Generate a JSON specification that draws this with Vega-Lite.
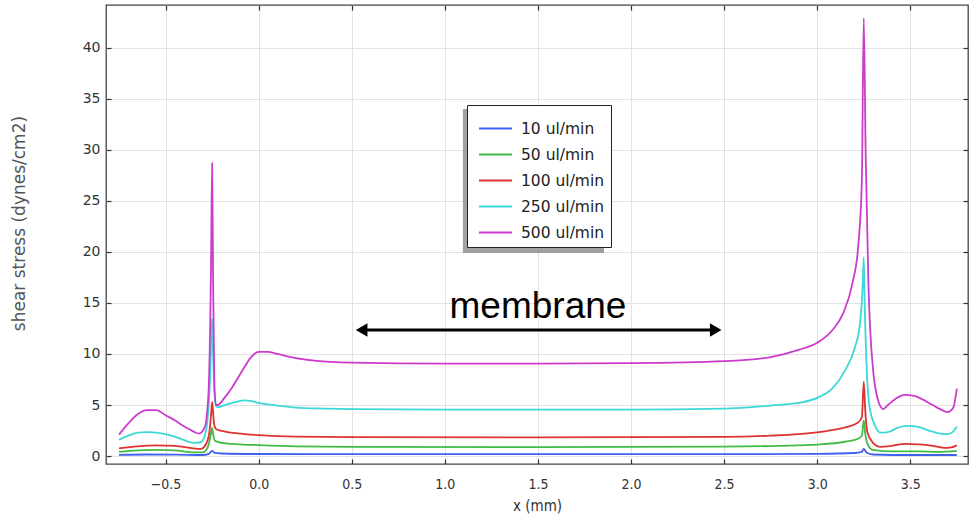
{
  "$schema": "https://vega.github.io/schema/vega-lite/v6.json",
  "autosize": "none",
  "width": 862,
  "height": 459,
  "padding": {"left": 106, "top": 5, "right": 5, "bottom": 53},
  "background": "white",
  "config": {
    "view": {"stroke": "#444", "strokeWidth": 1.3},
    "font": "DejaVu Sans",
    "axis": {
      "labelFont": "DejaVu Sans",
      "labelFontSize": 14,
      "labelColor": "#333",
      "titleFont": "DejaVu Sans",
      "titleFontSize": 17,
      "titleFontWeight": "normal",
      "titleColor": "#555",
      "tickColor": "#333",
      "tickWidth": 1.2,
      "tickSize": -5,
      "domain": false,
      "gridColor": "#e2e2e2",
      "gridWidth": 1
    }
  },
  "resolve": {"axis": {"x": "independent", "y": "independent"}},
  "datasets": {
    "curves": [
      {"flow": "10 ul/min", "x": -0.75, "y": 0.12},
      {"flow": "10 ul/min", "x": -0.6, "y": 0.15},
      {"flow": "10 ul/min", "x": -0.45, "y": 0.14},
      {"flow": "10 ul/min", "x": -0.3, "y": 0.1},
      {"flow": "10 ul/min", "x": -0.27, "y": 0.18},
      {"flow": "10 ul/min", "x": -0.25, "y": 0.5},
      {"flow": "10 ul/min", "x": -0.235, "y": 0.3},
      {"flow": "10 ul/min", "x": -0.2, "y": 0.25},
      {"flow": "10 ul/min", "x": 0.0, "y": 0.2},
      {"flow": "10 ul/min", "x": 0.5, "y": 0.18},
      {"flow": "10 ul/min", "x": 2.5, "y": 0.18},
      {"flow": "10 ul/min", "x": 3.0, "y": 0.22},
      {"flow": "10 ul/min", "x": 3.2, "y": 0.3},
      {"flow": "10 ul/min", "x": 3.24, "y": 0.4},
      {"flow": "10 ul/min", "x": 3.25, "y": 0.7},
      {"flow": "10 ul/min", "x": 3.265, "y": 0.35},
      {"flow": "10 ul/min", "x": 3.3, "y": 0.15},
      {"flow": "10 ul/min", "x": 3.5, "y": 0.1},
      {"flow": "10 ul/min", "x": 3.75, "y": 0.1},

      {"flow": "50 ul/min", "x": -0.75, "y": 0.4},
      {"flow": "50 ul/min", "x": -0.65, "y": 0.55},
      {"flow": "50 ul/min", "x": -0.55, "y": 0.6},
      {"flow": "50 ul/min", "x": -0.45, "y": 0.55},
      {"flow": "50 ul/min", "x": -0.35, "y": 0.35},
      {"flow": "50 ul/min", "x": -0.3, "y": 0.35},
      {"flow": "50 ul/min", "x": -0.275, "y": 0.8},
      {"flow": "50 ul/min", "x": -0.258, "y": 2.0},
      {"flow": "50 ul/min", "x": -0.25, "y": 2.75},
      {"flow": "50 ul/min", "x": -0.244, "y": 2.1},
      {"flow": "50 ul/min", "x": -0.235, "y": 1.5},
      {"flow": "50 ul/min", "x": -0.2, "y": 1.3},
      {"flow": "50 ul/min", "x": -0.1, "y": 1.15},
      {"flow": "50 ul/min", "x": 0.0, "y": 1.07},
      {"flow": "50 ul/min", "x": 0.2, "y": 0.95},
      {"flow": "50 ul/min", "x": 0.5, "y": 0.9},
      {"flow": "50 ul/min", "x": 1.5, "y": 0.88},
      {"flow": "50 ul/min", "x": 2.5, "y": 0.92},
      {"flow": "50 ul/min", "x": 2.8, "y": 1.0},
      {"flow": "50 ul/min", "x": 3.0, "y": 1.12},
      {"flow": "50 ul/min", "x": 3.15, "y": 1.4},
      {"flow": "50 ul/min", "x": 3.22, "y": 1.7},
      {"flow": "50 ul/min", "x": 3.24, "y": 2.0},
      {"flow": "50 ul/min", "x": 3.25, "y": 3.5},
      {"flow": "50 ul/min", "x": 3.258, "y": 2.2},
      {"flow": "50 ul/min", "x": 3.27, "y": 1.2},
      {"flow": "50 ul/min", "x": 3.3, "y": 0.6},
      {"flow": "50 ul/min", "x": 3.4, "y": 0.45},
      {"flow": "50 ul/min", "x": 3.55, "y": 0.45},
      {"flow": "50 ul/min", "x": 3.65, "y": 0.4},
      {"flow": "50 ul/min", "x": 3.75, "y": 0.5},

      {"flow": "100 ul/min", "x": -0.75, "y": 0.75},
      {"flow": "100 ul/min", "x": -0.65, "y": 0.95},
      {"flow": "100 ul/min", "x": -0.55, "y": 1.05},
      {"flow": "100 ul/min", "x": -0.45, "y": 1.0},
      {"flow": "100 ul/min", "x": -0.35, "y": 0.75},
      {"flow": "100 ul/min", "x": -0.31, "y": 0.7},
      {"flow": "100 ul/min", "x": -0.285, "y": 1.1},
      {"flow": "100 ul/min", "x": -0.265, "y": 2.3},
      {"flow": "100 ul/min", "x": -0.255, "y": 4.2},
      {"flow": "100 ul/min", "x": -0.25, "y": 5.3},
      {"flow": "100 ul/min", "x": -0.245, "y": 4.3},
      {"flow": "100 ul/min", "x": -0.238, "y": 3.0},
      {"flow": "100 ul/min", "x": -0.225, "y": 2.6},
      {"flow": "100 ul/min", "x": -0.18, "y": 2.4},
      {"flow": "100 ul/min", "x": -0.1, "y": 2.2},
      {"flow": "100 ul/min", "x": 0.0, "y": 2.05},
      {"flow": "100 ul/min", "x": 0.2, "y": 1.9},
      {"flow": "100 ul/min", "x": 0.5, "y": 1.85},
      {"flow": "100 ul/min", "x": 1.5, "y": 1.82},
      {"flow": "100 ul/min", "x": 2.5, "y": 1.88},
      {"flow": "100 ul/min", "x": 2.75, "y": 2.0},
      {"flow": "100 ul/min", "x": 2.9, "y": 2.15},
      {"flow": "100 ul/min", "x": 3.05, "y": 2.45},
      {"flow": "100 ul/min", "x": 3.15, "y": 2.8},
      {"flow": "100 ul/min", "x": 3.22, "y": 3.3},
      {"flow": "100 ul/min", "x": 3.24, "y": 3.8},
      {"flow": "100 ul/min", "x": 3.25, "y": 7.3},
      {"flow": "100 ul/min", "x": 3.258, "y": 4.5},
      {"flow": "100 ul/min", "x": 3.27, "y": 2.3},
      {"flow": "100 ul/min", "x": 3.3, "y": 1.3},
      {"flow": "100 ul/min", "x": 3.34, "y": 0.9},
      {"flow": "100 ul/min", "x": 3.4, "y": 1.0},
      {"flow": "100 ul/min", "x": 3.47, "y": 1.2},
      {"flow": "100 ul/min", "x": 3.55, "y": 1.15},
      {"flow": "100 ul/min", "x": 3.62, "y": 1.0},
      {"flow": "100 ul/min", "x": 3.68, "y": 0.8},
      {"flow": "100 ul/min", "x": 3.72, "y": 0.85},
      {"flow": "100 ul/min", "x": 3.75, "y": 1.05},

      {"flow": "250 ul/min", "x": -0.75, "y": 1.6},
      {"flow": "250 ul/min", "x": -0.7, "y": 2.0},
      {"flow": "250 ul/min", "x": -0.65, "y": 2.3},
      {"flow": "250 ul/min", "x": -0.6, "y": 2.35},
      {"flow": "250 ul/min", "x": -0.55, "y": 2.3},
      {"flow": "250 ul/min", "x": -0.5, "y": 2.15},
      {"flow": "250 ul/min", "x": -0.45, "y": 1.9},
      {"flow": "250 ul/min", "x": -0.4, "y": 1.55},
      {"flow": "250 ul/min", "x": -0.35, "y": 1.3},
      {"flow": "250 ul/min", "x": -0.31, "y": 1.35},
      {"flow": "250 ul/min", "x": -0.285, "y": 2.3},
      {"flow": "250 ul/min", "x": -0.265, "y": 6.0},
      {"flow": "250 ul/min", "x": -0.255, "y": 11.0},
      {"flow": "250 ul/min", "x": -0.25, "y": 13.5},
      {"flow": "250 ul/min", "x": -0.245, "y": 10.0},
      {"flow": "250 ul/min", "x": -0.238, "y": 6.5},
      {"flow": "250 ul/min", "x": -0.23, "y": 5.0},
      {"flow": "250 ul/min", "x": -0.22, "y": 4.8},
      {"flow": "250 ul/min", "x": -0.18, "y": 5.0},
      {"flow": "250 ul/min", "x": -0.12, "y": 5.3},
      {"flow": "250 ul/min", "x": -0.08, "y": 5.45},
      {"flow": "250 ul/min", "x": -0.03, "y": 5.35},
      {"flow": "250 ul/min", "x": 0.0, "y": 5.2},
      {"flow": "250 ul/min", "x": 0.1, "y": 4.95},
      {"flow": "250 ul/min", "x": 0.2, "y": 4.75},
      {"flow": "250 ul/min", "x": 0.35, "y": 4.65},
      {"flow": "250 ul/min", "x": 0.5, "y": 4.6},
      {"flow": "250 ul/min", "x": 1.0, "y": 4.55},
      {"flow": "250 ul/min", "x": 1.5, "y": 4.55},
      {"flow": "250 ul/min", "x": 2.0, "y": 4.55},
      {"flow": "250 ul/min", "x": 2.5, "y": 4.65},
      {"flow": "250 ul/min", "x": 2.75, "y": 4.95},
      {"flow": "250 ul/min", "x": 2.9, "y": 5.2},
      {"flow": "250 ul/min", "x": 3.0, "y": 5.7},
      {"flow": "250 ul/min", "x": 3.08, "y": 6.6},
      {"flow": "250 ul/min", "x": 3.15, "y": 8.4},
      {"flow": "250 ul/min", "x": 3.2, "y": 10.5},
      {"flow": "250 ul/min", "x": 3.23, "y": 13.0},
      {"flow": "250 ul/min", "x": 3.245, "y": 17.0},
      {"flow": "250 ul/min", "x": 3.25, "y": 19.5},
      {"flow": "250 ul/min", "x": 3.255, "y": 15.0},
      {"flow": "250 ul/min", "x": 3.265, "y": 9.0},
      {"flow": "250 ul/min", "x": 3.28, "y": 5.0},
      {"flow": "250 ul/min", "x": 3.31, "y": 3.0},
      {"flow": "250 ul/min", "x": 3.34, "y": 2.3},
      {"flow": "250 ul/min", "x": 3.38, "y": 2.35},
      {"flow": "250 ul/min", "x": 3.43, "y": 2.75},
      {"flow": "250 ul/min", "x": 3.48, "y": 2.95},
      {"flow": "250 ul/min", "x": 3.53, "y": 2.9},
      {"flow": "250 ul/min", "x": 3.6, "y": 2.5},
      {"flow": "250 ul/min", "x": 3.66, "y": 2.2},
      {"flow": "250 ul/min", "x": 3.7, "y": 2.15},
      {"flow": "250 ul/min", "x": 3.73, "y": 2.4},
      {"flow": "250 ul/min", "x": 3.75, "y": 2.9},

      {"flow": "500 ul/min", "x": -0.75, "y": 2.1},
      {"flow": "500 ul/min", "x": -0.7, "y": 3.2},
      {"flow": "500 ul/min", "x": -0.65, "y": 4.1},
      {"flow": "500 ul/min", "x": -0.6, "y": 4.5},
      {"flow": "500 ul/min", "x": -0.55, "y": 4.5},
      {"flow": "500 ul/min", "x": -0.5, "y": 4.0},
      {"flow": "500 ul/min", "x": -0.45, "y": 3.5},
      {"flow": "500 ul/min", "x": -0.4, "y": 2.9},
      {"flow": "500 ul/min", "x": -0.35, "y": 2.4},
      {"flow": "500 ul/min", "x": -0.32, "y": 2.2},
      {"flow": "500 ul/min", "x": -0.29, "y": 2.8},
      {"flow": "500 ul/min", "x": -0.27, "y": 6.0},
      {"flow": "500 ul/min", "x": -0.255, "y": 20.0},
      {"flow": "500 ul/min", "x": -0.25, "y": 28.7},
      {"flow": "500 ul/min", "x": -0.245, "y": 18.0},
      {"flow": "500 ul/min", "x": -0.238, "y": 7.0},
      {"flow": "500 ul/min", "x": -0.23, "y": 5.0},
      {"flow": "500 ul/min", "x": -0.22, "y": 5.0},
      {"flow": "500 ul/min", "x": -0.18, "y": 5.8},
      {"flow": "500 ul/min", "x": -0.14, "y": 6.8},
      {"flow": "500 ul/min", "x": -0.1, "y": 8.0},
      {"flow": "500 ul/min", "x": -0.06, "y": 9.2},
      {"flow": "500 ul/min", "x": -0.03, "y": 9.9},
      {"flow": "500 ul/min", "x": 0.0, "y": 10.2},
      {"flow": "500 ul/min", "x": 0.05, "y": 10.2},
      {"flow": "500 ul/min", "x": 0.1, "y": 10.0},
      {"flow": "500 ul/min", "x": 0.2, "y": 9.6},
      {"flow": "500 ul/min", "x": 0.3, "y": 9.35},
      {"flow": "500 ul/min", "x": 0.5, "y": 9.15},
      {"flow": "500 ul/min", "x": 1.0, "y": 9.05},
      {"flow": "500 ul/min", "x": 1.5, "y": 9.05},
      {"flow": "500 ul/min", "x": 2.0, "y": 9.1},
      {"flow": "500 ul/min", "x": 2.5, "y": 9.3},
      {"flow": "500 ul/min", "x": 2.75, "y": 9.7},
      {"flow": "500 ul/min", "x": 2.9, "y": 10.4},
      {"flow": "500 ul/min", "x": 3.0, "y": 11.1},
      {"flow": "500 ul/min", "x": 3.08, "y": 12.3},
      {"flow": "500 ul/min", "x": 3.14, "y": 14.0},
      {"flow": "500 ul/min", "x": 3.19, "y": 17.0},
      {"flow": "500 ul/min", "x": 3.22, "y": 20.5},
      {"flow": "500 ul/min", "x": 3.24, "y": 27.0},
      {"flow": "500 ul/min", "x": 3.25, "y": 42.9},
      {"flow": "500 ul/min", "x": 3.26, "y": 30.0},
      {"flow": "500 ul/min", "x": 3.275, "y": 17.0},
      {"flow": "500 ul/min", "x": 3.3, "y": 8.5},
      {"flow": "500 ul/min", "x": 3.33, "y": 5.3},
      {"flow": "500 ul/min", "x": 3.355, "y": 4.6},
      {"flow": "500 ul/min", "x": 3.38, "y": 5.0},
      {"flow": "500 ul/min", "x": 3.42, "y": 5.6},
      {"flow": "500 ul/min", "x": 3.47, "y": 6.0},
      {"flow": "500 ul/min", "x": 3.52, "y": 5.9},
      {"flow": "500 ul/min", "x": 3.56, "y": 5.6},
      {"flow": "500 ul/min", "x": 3.62, "y": 5.0},
      {"flow": "500 ul/min", "x": 3.66, "y": 4.6},
      {"flow": "500 ul/min", "x": 3.7, "y": 4.3},
      {"flow": "500 ul/min", "x": 3.73, "y": 4.7},
      {"flow": "500 ul/min", "x": 3.75, "y": 6.6}
    ],
    "arrow": [
      {"x": 0.556, "x2": 2.452, "y": 12.35, "label": "membrane", "tx": 1.5, "ty": 13.5}
    ],
    "heads": [
      {"x": 0.553, "y": 12.35, "shape": "triangle-left"},
      {"x": 2.455, "y": 12.35, "shape": "triangle-right"}
    ],
    "shadow": [
      {"x": 1.097, "x2": 1.855, "y": 34.0, "y2": 19.9}
    ]
  },
  "layer": [
    {
      "data": {"name": "shadow"},
      "mark": {"type": "rect", "color": "#8a8a8a", "opacity": 0.8},
      "encoding": {
        "x": {"field": "x", "type": "quantitative", "scale": {"domain": [-0.82, 3.81], "nice": false, "zero": false},
              "axis": {"orient": "top", "labels": false, "grid": false, "title": null, "ticks": true, "tickSize": -5, "values": [-0.5, 0, 0.5, 1, 1.5, 2, 2.5, 3, 3.5]}},
        "x2": {"field": "x2"},
        "y": {"field": "y", "type": "quantitative", "scale": {"domain": [-0.78, 44.2], "nice": false, "zero": false},
              "axis": {"orient": "right", "labels": false, "grid": false, "title": null, "ticks": true, "tickSize": -5, "values": [0, 5, 10, 15, 20, 25, 30, 35, 40]}},
        "y2": {"field": "y2"}
      }
    },
    {
      "data": {"name": "curves"},
      "mark": {"type": "line", "strokeWidth": 1.8, "interpolate": "monotone"},
      "encoding": {
        "x": {"field": "x", "type": "quantitative",
              "axis": {"orient": "bottom", "title": "x (mm)", "grid": true, "values": [-0.5, 0, 0.5, 1, 1.5, 2, 2.5, 3, 3.5],
                       "labelFont": "DejaVu Sans Condensed", "titleFont": "DejaVu Sans Condensed", "titleFontSize": 15, "titleColor": "#333",
                       "labelPadding": 18, "titlePadding": 7}},
        "y": {"field": "y", "type": "quantitative",
              "axis": {"orient": "left", "title": "shear stress (dynes/cm2)", "grid": true, "values": [0, 5, 10, 15, 20, 25, 30, 35, 40],
                       "labelPadding": 11, "titleX": -78, "titleY": 218, "titleAlign": "center"}},
        "color": {
          "field": "flow", "type": "nominal",
          "scale": {"domain": ["10 ul/min", "50 ul/min", "100 ul/min", "250 ul/min", "500 ul/min"],
                    "range": ["#4060f0", "#44bb44", "#dd3333", "#3cd8d8", "#cc3ccc"]},
          "legend": {"title": null, "orient": "none", "legendX": 361, "legendY": 100,
                     "fillColor": "white", "strokeColor": "#222", "padding": 6,
                     "symbolType": "stroke", "symbolSize": 1089, "symbolStrokeWidth": 2, "symbolOffset": 5,
                     "labelFont": "DejaVu Sans", "labelFontSize": 15.5, "labelColor": "#222",
                     "labelOffset": 8, "rowPadding": 0}
        },
        "order": {"field": "x", "type": "quantitative"}
      }
    },
    {
      "data": {"name": "arrow"},
      "mark": {"type": "rule", "strokeWidth": 3, "color": "black"},
      "encoding": {
        "x": {"field": "x", "type": "quantitative", "axis": null},
        "x2": {"field": "x2"},
        "y": {"field": "y", "type": "quantitative", "axis": null}
      }
    },
    {
      "data": {"name": "heads"},
      "mark": {"type": "point", "filled": true, "color": "black", "size": 180, "opacity": 1},
      "encoding": {
        "x": {"field": "x", "type": "quantitative", "axis": null},
        "y": {"field": "y", "type": "quantitative", "axis": null},
        "shape": {"field": "shape", "type": "nominal", "scale": null}
      }
    },
    {
      "data": {"name": "arrow"},
      "mark": {"type": "text", "font": "Liberation Sans", "fontSize": 37, "color": "black", "align": "center", "baseline": "alphabetic"},
      "encoding": {
        "x": {"field": "tx", "type": "quantitative", "axis": null},
        "y": {"field": "ty", "type": "quantitative", "axis": null},
        "text": {"field": "label"}
      }
    }
  ]
}
